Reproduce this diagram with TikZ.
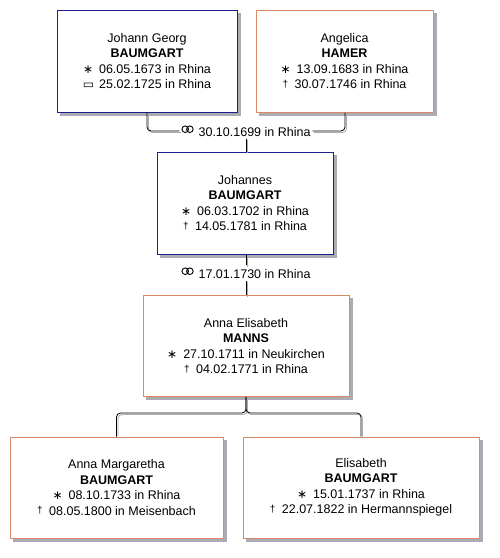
\documentclass[tikz,border=0pt]{standalone}
\usepackage{fontspec}
\setmainfont{Liberation Sans}
\newfontfamily\symfont{DejaVu Sans ExtraLight}
\newfontfamily\symfontb{DejaVu Sans}
\usetikzlibrary{backgrounds}
\definecolor{mblue}{HTML}{1E1E8C}
\definecolor{forange}{HTML}{D98A62}
\definecolor{shad}{HTML}{ABABB3}
\newcommand{\bsym}{{\symfontb\fontsize{12}{12}\selectfont ∗}\hspace{6pt}}
\newcommand{\dsym}{\raisebox{0.2ex}{\fontsize{10}{10}\selectfont †}\hspace{6.5pt}}
\newcommand{\bursym}{{\symfontb\fontsize{12}{12}\selectfont ▭}\hspace{5pt}}
\newcommand{\marsym}{\tikz[baseline=-3.6pt,x=1pt,y=1pt,line width=0.9pt]{\draw (0,3.6) circle (3.3) (4.6,3.6) circle (3.3);}\hspace{5pt}}
\begin{document}
\begin{tikzpicture}[x=1pt,y=-1pt,
  personbox/.style={draw, fill=white, line width=1pt, minimum height=102pt,
    align=center, font=\fontsize{12.5}{15.5}\selectfont, inner sep=0pt},
  male/.style={personbox, draw=mblue},
  female/.style={personbox, draw=forange},
  marr/.style={font=\fontsize{12.5}{15.5}\selectfont, inner sep=2pt},
  conn/.style={draw=black, line width=0.8pt, rounded corners=4pt},
  connsh/.style={draw=shad, line width=0.8pt, rounded corners=4pt,
    transform canvas={xshift=1.5pt, yshift=-1.5pt}},
  boxshadow/.style={fill=shad}]
\useasboundingbox (0,0) rectangle (499,558);

\node[male, minimum width=180pt] (jg) at (147,61)
  {Johann Georg\\\textbf{BAUMGART}\\\bsym 06.05.1673 in Rhina\\\bursym 25.02.1725 in Rhina};
\node[female, minimum width=177pt] (ah) at (344.5,61)
  {Angelica\\\textbf{HAMER}\\\bsym 13.09.1683 in Rhina\\\dsym 30.07.1746 in Rhina};
\node[marr] (m1) at (246,131) {\marsym 30.10.1699 in Rhina};

\node[male, minimum width=176pt] (jb) at (245,203)
  {Johannes\\\textbf{BAUMGART}\\\bsym 06.03.1702 in Rhina\\\dsym 14.05.1781 in Rhina};
\node[marr] (m2) at (246,273) {\marsym 17.01.1730 in Rhina};

\node[female, minimum width=206pt, minimum height=101pt] (ae) at (246,346)
  {Anna Elisabeth\\\textbf{MANNS}\\\bsym 27.10.1711 in Neukirchen\\\dsym 04.02.1771 in Rhina};

\node[female, minimum width=213pt, minimum height=101pt] (c1) at (116.5,487.5)
  {Anna Margaretha\\\textbf{BAUMGART}\\\bsym 08.10.1733 in Rhina\\\dsym 08.05.1800 in Meisenbach};
\node[female, minimum width=236pt, minimum height=101pt] (c2) at (361,487.5)
  {Elisabeth\\\textbf{BAUMGART}\\\bsym 15.01.1737 in Rhina\\\dsym 22.07.1822 in Hermannspiegel};

\coordinate (fork) at (246,413);

\begin{scope}[on background layer]
  \fill[white] (0,0) rectangle (499,558);
  \foreach \n in {jg,ah,jb,ae,c1,c2}
    \fill[boxshadow] ([shift={(3,3)}]\n.north west) rectangle ([shift={(3,3)}]\n.south east);
\end{scope}

\foreach \s in {connsh,conn}{
  \draw[\s] (jg.south) |- (m1.west);
  \draw[\s] (ah.south -| 345,0) |- (m1.east);
  \draw[\s] (m1.south) -- (jb.north -| m1.south);
  \draw[\s] (jb.south -| m2.north) -- (m2.north);
  \draw[\s] (m2.south) -- (ae.north -| m2.south);
  \draw[\s] (c1.north) |- (fork) -- (ae.south -| fork);
  \draw[\s] (c2.north) |- (fork) -- (ae.south -| fork);
}
\end{tikzpicture}
\end{document}
